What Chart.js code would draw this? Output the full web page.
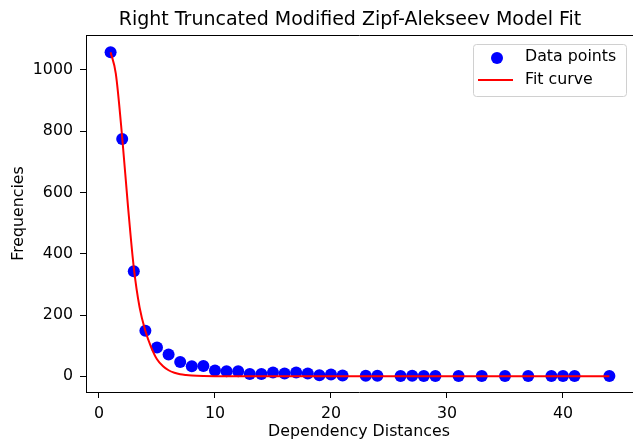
<!DOCTYPE html>
<html>
<head>
<meta charset="utf-8">
<title>Right Truncated Modified Zipf-Alekseev Model Fit</title>
<script src="https://cdn.jsdelivr.net/npm/chart.js@4/dist/chart.umd.min.js"></script>
<style>
  html, body { margin: 0; padding: 0; background: #fff; }
  canvas { display: block; }
</style>
</head>
<body>
<canvas id="fit-chart" width="633" height="441"></canvas>
<script>
// ─── Data ─────────────────────────────────────────────────────
const distances   = [1, 2, 3, 4, 5, 6, 7, 8, 9, 10, 11, 12, 13, 14, 15, 16, 17, 18, 19, 20, 21,
                     23, 24, 26, 27, 28, 29, 31, 33, 35, 37, 39, 40, 41, 44];
const frequencies = [1058, 775, 343, 149, 94, 71, 47, 33, 34, 19, 17, 17, 8, 8, 13, 9, 13, 9, 4, 6, 3,
                     2, 2, 1, 2, 1, 1, 1, 1, 1, 1, 1, 1, 1, 1];

// fit curve
const fitX = [1, 1.45, 2, 2.5, 3, 3.5, 4, 4.5, 5, 5.5, 6, 6.5, 7, 7.5, 8, 9, 10, 12, 15, 20, 30, 44];
const fitY = [1058, 988, 780, 555, 355, 225, 148, 95, 56, 34, 20, 12, 7, 4.5, 3, 1.5, 0.8, 0.3, 0.1, 0, 0, 0];

const xTicks = [0, 10, 20, 30, 40];
const yTicks = [0, 200, 400, 600, 800, 1000];

const FONT = 'DejaVu Sans';
const FS   = 15.8;

// ─── Frame, title & legend plugin ─────────────────────────────
const decorPlugin = {
  id: 'decor',
  beforeDraw(chart) {
    const ctx = chart.ctx;
    ctx.save();
    ctx.fillStyle = '#fff';
    ctx.fillRect(0, 0, chart.width, chart.height);
    ctx.restore();
  },
  afterDraw(chart) {
    const ctx = chart.ctx;
    const a = chart.chartArea;
    ctx.save();

    // top spine (right spine falls just outside the canvas)
    ctx.strokeStyle = '#000';
    ctx.lineWidth = 1;
    ctx.beginPath();
    ctx.moveTo(a.left, a.top + 0.5);
    ctx.lineTo(chart.width, a.top + 0.5);
    ctx.stroke();

    // title
    ctx.fillStyle = '#000';
    ctx.font = `19px "${FONT}"`;
    ctx.textAlign = 'center';
    ctx.textBaseline = 'alphabetic';
    ctx.fillText('Right Truncated Modified Zipf-Alekseev Model Fit', 350, 25);

    // legend
    const lx = 473, ly = 44, lw = 153, lh = 52;
    ctx.beginPath();
    ctx.roundRect(lx + 0.5, ly + 0.5, lw, lh, 3);
    ctx.fillStyle = 'rgba(255,255,255,0.8)';
    ctx.fill();
    ctx.strokeStyle = '#d0d0d0';
    ctx.stroke();

    const pts = chart.data.datasets[1];
    const fit = chart.data.datasets[0];
    ctx.fillStyle = pts.backgroundColor;
    ctx.beginPath();
    ctx.arc(497, 58, 6, 0, Math.PI * 2);
    ctx.fill();

    ctx.strokeStyle = fit.borderColor;
    ctx.lineWidth = 2;
    ctx.beginPath();
    ctx.moveTo(478, 80);
    ctx.lineTo(513, 80);
    ctx.stroke();

    ctx.fillStyle = '#000';
    ctx.font = `${FS}px "${FONT}"`;
    ctx.textAlign = 'left';
    ctx.textBaseline = 'middle';
    ctx.fillText(pts.label, 525, 57);
    ctx.fillText(fit.label, 525, 80);

    ctx.restore();
  },
};

// ─── Chart ────────────────────────────────────────────────────
const axisCommon = {
  type: 'linear',
  grid: { display: true, drawOnChartArea: false, drawTicks: true, tickLength: 6, color: '#000' },
  border: { display: true, color: '#000', width: 1 },
};

new Chart(document.getElementById('fit-chart').getContext('2d'), {
  type: 'scatter',
  data: {
    datasets: [
      {
        label: 'Fit curve',
        data: fitX.map((x, i) => ({ x, y: fitY[i] })),
        showLine: true,
        borderColor: '#ff0000',
        borderWidth: 2,
        pointRadius: 0,
        cubicInterpolationMode: 'monotone',
        order: 0,
      },
      {
        label: 'Data points',
        data: distances.map((x, i) => ({ x, y: frequencies[i] })),
        backgroundColor: '#0000ff',
        borderWidth: 0,
        pointRadius: 6,
        order: 1,
      },
    ],
  },
  options: {
    responsive: false,
    animation: false,
    devicePixelRatio: 1,
    layout: { autoPadding: false, padding: { top: 35, right: 1, left: 0, bottom: 0 } },
    plugins: {
      legend: { display: false },
      title: { display: false },
      tooltip: { enabled: false },
    },
    scales: {
      x: {
        ...axisCommon,
        min: -1.12,
        max: 45.95,
        afterBuildTicks: s => { s.ticks = xTicks.map(v => ({ value: v })); },
        afterFit: s => { s.height = 49; },
        ticks: { color: '#000', font: { family: FONT, size: FS }, padding: 6, callback: v => String(v) },
        title: {
          display: true, text: 'Dependency Distances', color: '#000',
          font: { family: FONT, size: FS }, padding: { top: 0, bottom: 0 },
        },
      },
      y: {
        ...axisCommon,
        min: -51,
        max: 1114,
        afterBuildTicks: s => { s.ticks = yTicks.map(v => ({ value: v })); },
        afterFit: s => { s.width = 86; },
        ticks: { color: '#000', font: { family: FONT, size: FS }, padding: 7, callback: v => String(v) },
        title: {
          display: true, text: 'Frequencies', color: '#000',
          font: { family: FONT, size: FS }, padding: { top: 9, bottom: 0 },
        },
      },
    },
  },
  plugins: [decorPlugin],
});
</script>
</body>
</html>
